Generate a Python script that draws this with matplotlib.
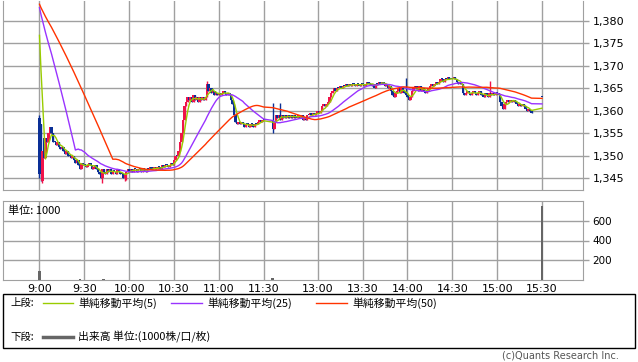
import matplotlib

matplotlib.use("Agg")
import matplotlib.pyplot as plt
import numpy as np
import pandas as pd
from matplotlib.patches import Rectangle

plt.rcParams["font.family"] = ["DejaVu Sans", "Noto Sans CJK JP"]

# ---- data (1-minute closes) ----
prev_close = 1384.5

am_close = [
    1346, 1346, 1351, 1349.5, 1354, 1353, 1355, 1356.5, 1355, 1353,
    1353, 1352.5, 1353, 1352, 1351.5, 1352, 1351, 1350.5, 1351, 1350,
    1350, 1349.5, 1350, 1349, 1348.5, 1349, 1348, 1347, 1348.5, 1348,
    1348, 1347.5, 1348, 1348.5, 1348, 1347, 1347.5, 1348, 1347, 1346.5,
    1346, 1345, 1347, 1346.5, 1346, 1347, 1346.5, 1347, 1346, 1346.5,
    1346.5, 1346, 1347, 1346.5, 1346, 1346, 1345, 1346, 1346.5, 1347,
    1346.5, 1347, 1346.5, 1347, 1347, 1346.5, 1347, 1347, 1346.5, 1347,
    1347, 1346.5, 1347, 1347, 1347.5, 1347, 1347, 1347.5, 1347, 1347.5,
    1347.5, 1347, 1348, 1347.5, 1348, 1348, 1347.5, 1348, 1348.5, 1348,
    1349, 1350, 1350, 1351, 1353, 1355, 1358, 1361, 1362, 1363,
    1362.5, 1363, 1362, 1363.5, 1362.5, 1363, 1362, 1363, 1362.5, 1363,
    1362.5, 1363, 1366, 1364.5, 1365, 1364, 1364.5, 1363.5, 1364, 1363.5,
    1364, 1363.5, 1364, 1364.5, 1364, 1363.5, 1364, 1363.5, 1362.5, 1361.5,
    1359, 1357.5, 1357, 1357.5, 1357, 1357.5, 1357, 1356.5, 1357, 1357,
    1356.5, 1357, 1357, 1356.5, 1357, 1357, 1357.5, 1358, 1357.5, 1358, 1358,
]
pm_close = [
    1356, 1357.5, 1359, 1358.5, 1359, 1358, 1359, 1358.5, 1359, 1358.5,
    1359, 1358.5, 1359, 1358.5, 1359, 1358.5, 1358.5, 1359, 1358.5, 1359,
    1358, 1358.5, 1358, 1359, 1359, 1359.5, 1359, 1359.5, 1359, 1359.5,
    1360, 1359.5, 1360, 1361, 1361.5, 1361, 1361.5, 1362, 1363, 1364,
    1364.5, 1365, 1364.5, 1365, 1365, 1365.5, 1365, 1365.5, 1365.5, 1366,
    1365.5, 1366, 1365.5, 1366, 1366, 1365.5, 1366, 1366, 1365.5, 1366,
    1366, 1365.5, 1366, 1366.5, 1366, 1366, 1365.5, 1366, 1365, 1366,
    1366, 1366.5, 1366, 1366.5, 1366, 1365.5, 1366, 1365, 1365.5, 1364.5,
    1363.5, 1363, 1364, 1364.5, 1365, 1364, 1365, 1364.5, 1364, 1363.5,
    1363, 1362.5, 1363, 1364.5, 1365, 1365.5, 1365, 1364.5, 1365.5, 1364.5,
    1365, 1364.5, 1364, 1364.5, 1365, 1365.5, 1366, 1365.5, 1366, 1366.5,
    1366, 1366.5, 1367, 1367, 1366.5, 1367, 1367, 1367.5, 1367, 1367,
    1367, 1367.5, 1367, 1366.5, 1366, 1366.5, 1366, 1364, 1363.5, 1364,
    1364.5, 1364, 1363.5, 1364, 1364.5, 1364, 1363.5, 1364, 1364.5, 1363.5,
    1363.5, 1363, 1364, 1363.5, 1363, 1364, 1363.5, 1364, 1363.5, 1364,
    1364, 1363.5, 1362, 1361, 1360.5, 1361.5, 1362, 1362.5, 1362, 1362.5,
    1362, 1362.5, 1362, 1361.5, 1361, 1361.5, 1361, 1361.5, 1361, 1360.5,
    1360, 1360.5, 1360, 1359.5,
]
auction_time, auction_price = "15:30", 1363.0

open_override = {"9:00": 1358.5, "9:01": 1357.0, "9:02": 1344.5, "9:03": 1354.0,
                 "15:30": 1363.0}
wick_high = {"9:00": 1359.0, "10:52": 1366.7, "12:30": 1361.8, "12:35": 1361.8,
             "13:59": 1367.3, "14:55": 1366.7}
wick_low = {"9:00": 1345.0, "9:01": 1344.5, "9:02": 1344.0, "9:42": 1344.0,
            "9:57": 1344.3, "9:58": 1344.7, "12:30": 1355.1}

vol_times = ["9:00", "9:27", "9:43", "12:30", "15:30"]
vol_values = [95, 12, 12, 22, 745]

time_ticks = ["9:00", "9:30", "10:00", "10:30", "11:00", "11:30",
              "13:00", "13:30", "14:00", "14:30", "15:00", "15:30"]
price_ticks = [1345, 1350, 1355, 1360, 1365, 1370, 1375, 1380]
vol_ticks = [200, 400, 600]

UP, DOWN = "#f0144a", "#0a2f96"
MA_COLORS = {5: "#99cc00", 25: "#9933ff", 50: "#ff3300"}
GRID = "#a0a0a0"
jp = ["Noto Sans CJK JP", "DejaVu Sans"]


def tpos(s):
    h, mm = map(int, s.split(":"))
    t = h * 60 + mm
    return t - 540 if t < 720 else t - 750 + 156


def tstr(minutes):
    return f"{minutes // 60}:{minutes % 60:02d}"


am_times = [tstr(540 + i) for i in range(len(am_close))]
pm_times = [tstr(750 + i) for i in range(len(pm_close))]
times = am_times + pm_times + [auction_time]
closes = np.array(am_close + pm_close + [auction_price], dtype=float)
xs = np.array([tpos(t) for t in times], dtype=float)
opens = np.concatenate([[prev_close], closes[:-1]])
for t, v in open_override.items():
    opens[times.index(t)] = v
highs = np.maximum(opens, closes)
lows = np.minimum(opens, closes)
for t, v in wick_high.items():
    i = times.index(t)
    highs[i] = max(highs[i], v)
for t, v in wick_low.items():
    i = times.index(t)
    lows[i] = min(lows[i], v)

W, H = 638, 362
fig = plt.figure(figsize=(W / 100, H / 100), dpi=100)


def frac(x0, y0, x1, y1):
    return [x0 / W, 1 - y1 / H, (x1 - x0) / W, (y1 - y0) / H]


xlim = (-24.4, 363.4)

# ---- price panel ----
ax = fig.add_axes(frac(3, 1, 583, 190))
ax.set_xlim(*xlim)
ax.set_ylim(1342.4, 1384.45)
colors = np.where(closes > opens, UP, DOWN)
ax.vlines(xs, lows, highs, colors=colors, linewidth=1.0, zorder=3)
body = np.maximum(np.abs(closes - opens), 0.25)
ax.bar(xs, body, bottom=np.minimum(opens, closes), width=1.6, color=colors,
       linewidth=0, zorder=3)

series = pd.Series(np.concatenate([[prev_close] * 49, closes]))
for n, c in MA_COLORS.items():
    ma = series.rolling(n).mean().to_numpy()[49:]
    ax.plot(xs, ma, color=c, linewidth=1.0, zorder=4)

ax.set_xticks([tpos(t) for t in time_ticks])
ax.set_yticks(price_ticks)
ax.set_yticklabels([f"{p:,}" for p in price_ticks])
ax.tick_params(axis="x", length=0, labelbottom=False)
ax.yaxis.tick_right()
ax.tick_params(axis="y", length=4, width=1, color=GRID, labelsize=8, pad=3)
ax.grid(True, color=GRID, linewidth=1.0)
ax.set_axisbelow(True)
for s in ax.spines.values():
    s.set_color(GRID)
ax.spines["top"].set_visible(False)

# ---- volume panel ----
av = fig.add_axes(frac(3, 201, 583, 280))
av.set_xlim(*xlim)
av.set_ylim(0, 800)
av.bar([tpos(t) for t in vol_times], vol_values, width=1.8, color="#666666",
       zorder=3)
av.set_xticks([tpos(t) for t in time_ticks])
av.set_xticklabels(time_ticks)
av.set_yticks(vol_ticks)
av.yaxis.tick_right()
av.tick_params(axis="x", length=0, labelsize=8, pad=3)
av.tick_params(axis="y", length=4, width=1, color=GRID, labelsize=7.5, pad=3)
av.grid(True, color=GRID, linewidth=1.0)
av.set_axisbelow(True)
for s in av.spines.values():
    s.set_color(GRID)
av.text(0.008, 0.95, "単位: 1000", transform=av.transAxes, fontsize=8,
        va="top", ha="left", family=jp)

# ---- legend box ----
fig.add_artist(Rectangle((3 / W, 1 - 348 / H), 632 / W, 54 / H,
                         transform=fig.transFigure, fill=False,
                         edgecolor="black", linewidth=1.0))
y1 = 1 - 303 / H
y2 = 1 - 337 / H
fig.text(10 / W, y1, "上段:", fontsize=7.5, va="center", family=jp)
items = [(5, 43, 73, 78), (25, 171, 202, 207), (50, 316, 347, 352)]
for n, lx0, lx1, tx in items:
    fig.add_artist(plt.Line2D([lx0 / W, lx1 / W], [y1, y1], color=MA_COLORS[n],
                              linewidth=1.0, transform=fig.transFigure))
    fig.text(tx / W, y1, f"単純移動平均({n})", fontsize=7.8, va="center", family=jp)
fig.text(10 / W, y2, "下段:", fontsize=7.5, va="center", family=jp)
fig.add_artist(plt.Line2D([43 / W, 73 / W], [y2, y2], color="#666666",
                          linewidth=2.5, transform=fig.transFigure))
fig.text(78 / W, y2, "出来高 単位:(1000株/口/枚)", fontsize=7.8, va="center", family=jp)
fig.text(619 / W, 1 - 356 / H, "(c)Quants Research Inc.", fontsize=7,
         va="center", ha="right", color="#555555")

fig.savefig("out.png", dpi=100)
